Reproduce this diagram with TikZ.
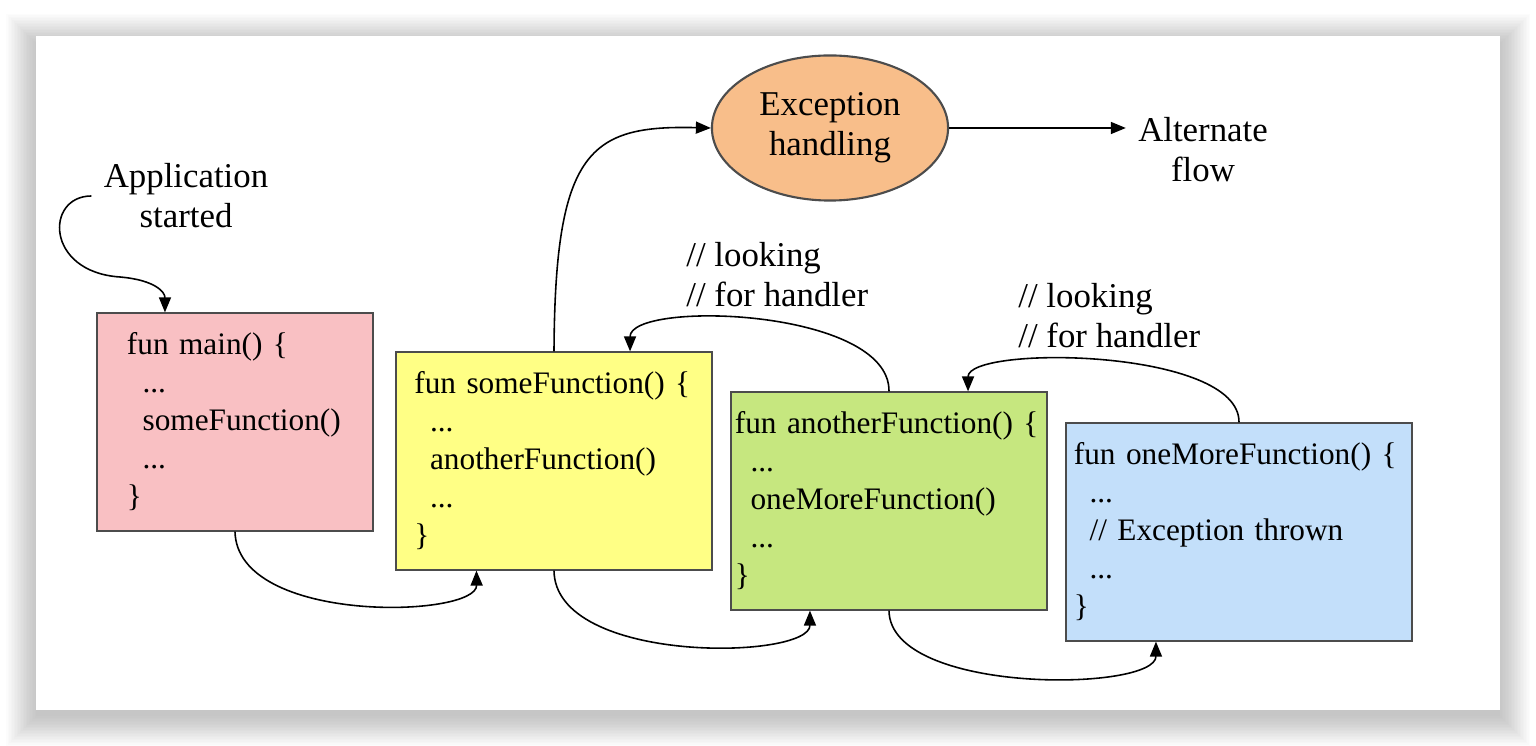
\documentclass[tikz,border=0pt]{standalone}
\usepackage{fontspec}
\setmainfont{Liberation Serif}
\usetikzlibrary{arrows.meta,shapes.geometric}

\definecolor{mainpink}{HTML}{F9C0C3}
\definecolor{someyellow}{HTML}{FFFF85}
\definecolor{anothergreen}{HTML}{C6E77F}
\definecolor{moreblue}{HTML}{C3DFFA}
\definecolor{excorange}{HTML}{F8BE8A}

\begin{document}
\begin{tikzpicture}[
    x=0.01cm, y=-0.01cm,
    box/.style={draw=black!70, line width=0.6pt, align=left, minimum height=2.17cm, inner ysep=0pt, font=\fontsize{8.9}{10.8}\selectfont},
    lbl/.style={align=center, font=\fontsize{9.9}{11.4}\selectfont},
    arr/.style={-{Triangle[length=1.5mm,width=1.2mm]}, line width=0.45pt}
]
\useasboundingbox (0,0) rectangle (1536,746);
% card with soft shadow
\foreach \i in {0,...,20}
  \fill[black, opacity=0.011] (36-1.5*\i, 44-1.5*\i) rectangle (1500+1.5*\i, 716+1.5*\i);
\fill[white] (36,36) rectangle (1500,710);

\node[lbl] (app) at (186,196) {Application\\started};
\node[box, fill=mainpink, text width=2.16cm, inner xsep=0.3cm] (main) at (235,422) {fun main() \{\\\hspace*{0.5em}...\\\hspace*{0.5em}someFunction()\\\hspace*{0.5em}...\\\}};
\node[box, fill=someyellow, text width=2.79cm, inner xsep=0.18cm] (some) at (554,461) {fun someFunction() \{\\\hspace*{0.5em}...\\\hspace*{0.5em}anotherFunction()\\\hspace*{0.5em}...\\\}};
\node[box, fill=anothergreen, text width=3.08cm, inner xsep=0.04cm] (another) at (889,501) {fun anotherFunction() \{\\\hspace*{0.5em}...\\\hspace*{0.5em}oneMoreFunction()\\\hspace*{0.5em}...\\\}};
\node[box, fill=moreblue, text width=3.3cm, inner xsep=0.08cm] (onemore) at (1239,532) {fun oneMoreFunction() \{\\\hspace*{0.5em}...\\\hspace*{0.5em}// Exception thrown\\\hspace*{0.5em}...\\\}};
\node[ellipse, draw=black!70, line width=0.6pt, fill=excorange, minimum width=2.36cm, minimum height=1.45cm, lbl] (exc) at (830,128) {Exception\\handling};
\node[lbl] (alt) at (1203,150) {Alternate\\flow};
\node[lbl, align=left, anchor=west] (look1) at (674,275) {// looking\\// for handler};
\node[lbl, align=left, anchor=west] (look2) at (1006,316) {// looking\\// for handler};

% calls
\draw[arr] (app.west) .. controls (45,196) and (45,272) .. (120,277) .. controls (155,280) and (165,292) .. ([xshift=-0.7cm]main.north);
\draw[arr] (main.south) .. controls (237,625) and (477,618) .. ([xshift=-0.775cm]some.south);
\draw[arr] (some.south) .. controls (555,665) and (810,660) .. ([xshift=-0.79cm]another.south);
\draw[arr] (another.south) .. controls (890,695) and (1156,692) .. ([xshift=-0.83cm]onemore.south);
% unwinding
\draw[arr] (onemore.north) .. controls (1240,348) and (968,345) .. ([xshift=0.79cm]another.north);
\draw[arr] (another.north) .. controls (890,308) and (630,300) .. ([xshift=0.76cm]some.north);
\draw[arr] (some.north) .. controls (555,150) and (590,125) .. (exc.west);
\draw[arr] (exc.east) -- (exc.east -| alt.west);
\end{tikzpicture}
\end{document}
